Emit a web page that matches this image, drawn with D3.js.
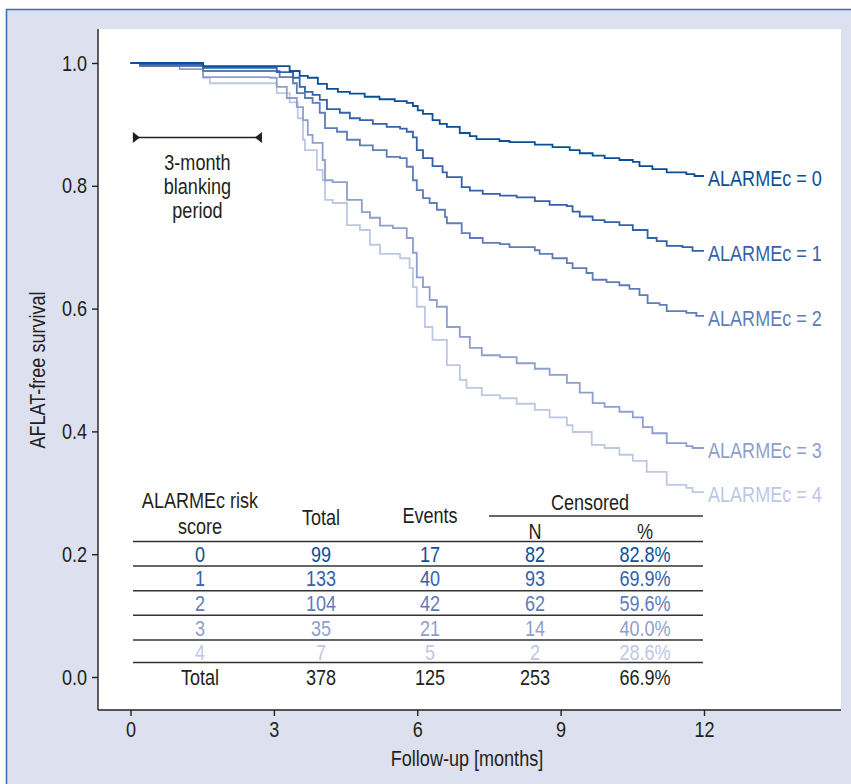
<!DOCTYPE html>
<html>
<head>
	<title>AFLAT-free survival</title>
	<meta charset='utf-8'>
	<style>
		body {
			margin: 0;
			background: #fff;
		}
		svg text {
			font-family: 'Liberation Sans', Arial, sans-serif;
			fill: #231f20;
		}
		.axis path, .axis line {
			stroke: #231f20;
			stroke-width: 1.4px;
		}
		.axis text {
			font-size: 22px;
		}
		.km {
			fill: none;
			stroke-width: 1.8px;
		}
		.tbl text {
			font-size: 22px;
		}
		.tbl line {
			stroke: #333;
			stroke-width: 1.5px;
		}
	</style>
</head>
<body>
<div id="chart"></div>
<script src='https://d3js.org/d3.v7.min.js'></script>
<script>
	'use strict';

	// Кривые Каплана-Мейера: [месяц, выживаемость]
	const curve0 = [[0,1],[1.52,0.995],[3.33,0.987],[3.54,0.979],[3.71,0.976],[3.92,0.966],[4.11,0.958],[4.34,0.953],[4.59,0.950],[4.90,0.945],[5.21,0.941],[5.53,0.938],[5.78,0.935],[5.91,0.930],[6.01,0.923],[6.12,0.917],[6.32,0.907],[6.47,0.901],[6.62,0.896],[6.89,0.886],[7.10,0.881],[7.24,0.876],[7.72,0.873],[7.93,0.871],[8.46,0.867],[8.83,0.863],[9.19,0.858],[9.40,0.853],[9.67,0.849],[9.92,0.845],[10.23,0.842],[10.51,0.839],[10.65,0.832],[10.92,0.827],[11.22,0.822],[11.63,0.819],[11.80,0.816]];
	const curve1 = [[0,1],[0.20,0.997],[1.52,0.992],[3.06,0.985],[3.40,0.976],[3.54,0.961],[3.65,0.953],[3.81,0.948],[3.96,0.940],[4.11,0.925],[4.38,0.919],[4.59,0.910],[4.80,0.907],[5.07,0.901],[5.36,0.896],[5.64,0.893],[5.78,0.888],[5.91,0.879],[5.99,0.858],[6.12,0.845],[6.32,0.832],[6.53,0.822],[6.62,0.814],[6.93,0.798],[7.10,0.792],[7.37,0.787],[7.73,0.784],[8.08,0.781],[8.46,0.775],[8.77,0.769],[9.13,0.767],[9.25,0.758],[9.40,0.750],[9.67,0.744],[9.92,0.741],[10.23,0.736],[10.51,0.728],[10.82,0.715],[11.01,0.710],[11.22,0.702],[11.55,0.700],[11.76,0.694]];
	const curve2 = [[0,1],[0.20,0.995],[1.52,0.987],[3.12,0.977],[3.40,0.967],[3.48,0.951],[3.65,0.943],[3.81,0.935],[3.96,0.919],[4.07,0.894],[4.32,0.888],[4.53,0.875],[4.80,0.866],[5.07,0.858],[5.36,0.847],[5.64,0.845],[5.78,0.831],[5.91,0.809],[5.99,0.793],[6.12,0.780],[6.26,0.772],[6.41,0.761],[6.58,0.749],[6.62,0.739],[6.93,0.723],[7.10,0.715],[7.37,0.707],[7.73,0.705],[7.93,0.700],[8.46,0.695],[8.56,0.689],[8.83,0.682],[9.13,0.674],[9.25,0.666],[9.54,0.658],[9.67,0.647],[9.96,0.643],[10.23,0.638],[10.44,0.632],[10.65,0.622],[10.82,0.609],[11.07,0.606],[11.22,0.596],[11.63,0.593],[11.84,0.588]];
	const curve3 = [[0,1],[1.03,0.990],[1.52,0.977],[2.92,0.976],[3.06,0.961],[3.27,0.943],[3.48,0.928],[3.61,0.907],[3.71,0.883],[3.81,0.870],[4.02,0.842],[4.07,0.809],[4.23,0.806],[4.53,0.777],[4.84,0.757],[5.01,0.748],[5.22,0.735],[5.49,0.731],[5.78,0.715],[5.91,0.691],[5.99,0.651],[6.12,0.635],[6.26,0.614],[6.41,0.603],[6.62,0.570],[6.89,0.554],[7.10,0.536],[7.35,0.524],[7.73,0.521],[8.08,0.511],[8.46,0.502],[8.77,0.492],[9.13,0.479],[9.40,0.463],[9.67,0.446],[9.92,0.440],[10.23,0.432],[10.51,0.423],[10.72,0.407],[10.92,0.397],[11.22,0.381],[11.63,0.376],[11.76,0.373]];
	const curve4 = [[0,1],[0.20,0.997],[0.85,0.995],[1.52,0.976],[1.66,0.967],[3.06,0.951],[3.33,0.936],[3.50,0.910],[3.61,0.875],[3.65,0.858],[3.90,0.826],[4.02,0.809],[4.07,0.777],[4.23,0.772],[4.53,0.736],[4.80,0.728],[5.01,0.704],[5.22,0.689],[5.64,0.682],[5.84,0.666],[5.91,0.635],[5.99,0.603],[6.16,0.570],[6.32,0.549],[6.62,0.508],[6.89,0.484],[7.03,0.471],[7.35,0.459],[7.73,0.454],[8.08,0.445],[8.46,0.435],[8.77,0.423],[9.13,0.410],[9.25,0.399],[9.65,0.378],[9.92,0.373],[10.23,0.362],[10.51,0.352],[10.80,0.334],[11.22,0.313],[11.63,0.308],[11.76,0.301]];

	const curves = [curve0, curve1, curve2, curve3, curve4];
	const curveLabels = ['ALARMEc = 0', 'ALARMEc = 1', 'ALARMEc = 2', 'ALARMEc = 3', 'ALARMEc = 4'];
	const colors = ['#0b4f97', '#3462a8', '#5f7cb8', '#8e9fcd', '#bec7e4'];

	const xTicks = [0, 3, 6, 9, 12];
	const yTicks = [0, 0.2, 0.4, 0.6, 0.8, 1.0];
	const followUpEnd = 12;
	const blanking = [0.05, 2.75];
	const blankingText = ['3-month', 'blanking', 'period'];

	// Таблица
	const riskScores = ['0', '1', '2', '3', '4'];
	const totals = [99, 133, 104, 35, 7];
	const events = [17, 40, 42, 21, 5];
	const censoredN = [82, 93, 62, 14, 2];
	const censoredPct = ['82.8%', '69.9%', '59.6%', '40.0%', '28.6%'];
	const totalRow = ['Total', '378', '125', '253', '66.9%'];

	const W = 851, H = 784;
	const plot = {left: 98, right: 841, top: 29, bottom: 710};

	const svg = d3.select('#chart').append('svg')
		.attr('width', W)
		.attr('height', H);

	// Фон панели
	svg.append('rect').attr('x', 6).attr('y', 9).attr('width', W).attr('height', H)
		.attr('fill', '#dde0ee');
	svg.append('path').attr('d', 'M6.5,' + H + 'V9.5H' + W)
		.attr('fill', 'none').attr('stroke', '#3f72b2').attr('stroke-width', 1.6);
	svg.append('rect')
		.attr('x', plot.left).attr('y', plot.top)
		.attr('width', plot.right - plot.left).attr('height', plot.bottom - plot.top)
		.attr('fill', '#fff');

	const xScale = d3.scaleLinear().domain([0, 12]).range([130.5, 704]);
	const yScale = d3.scaleLinear().domain([0, 1]).range([677, 63]);

	// Оси
	const xAxis = svg.append('g')
		.attr('class', 'axis')
		.attr('transform', 'translate(0,' + plot.bottom + ')')
		.call(d3.axisBottom(xScale).tickValues(xTicks).tickSize(6).tickPadding(5).tickSizeOuter(0));
	xAxis.select('.domain').attr('d', 'M' + plot.left + ',0H' + plot.right);

	const yAxis = svg.append('g')
		.attr('class', 'axis')
		.attr('transform', 'translate(' + plot.left + ',0)')
		.call(d3.axisLeft(yScale).tickValues(yTicks).tickFormat(d3.format('.1f')).tickSize(6).tickPadding(5).tickSizeOuter(0));
	yAxis.select('.domain').attr('d', 'M0,' + plot.top + 'V' + plot.bottom);

	svg.append('text')
		.attr('x', 467)
		.attr('y', 758)
		.attr('dy', '0.35em')
		.attr('text-anchor', 'middle')
		.style('font-size', '22px')
		.text('Follow-up [months]');

	svg.append('text')
		.attr('transform', 'translate(37,370) rotate(-90)')
		.attr('dy', '0.35em')
		.attr('text-anchor', 'middle')
		.style('font-size', '22px')
		.text('AFLAT-free survival');

	// Кривые
	const line = d3.line()
		.x(function(d) {return xScale(d[0]);})
		.y(function(d) {return yScale(d[1]);})
		.curve(d3.curveStepAfter);

	curves.slice().reverse().forEach((c, ri) => {
		const i = curves.length - 1 - ri;
		const pts = c.concat([[followUpEnd, c[c.length - 1][1]]]);
		svg.append('path')
			.datum(pts)
			.attr('class', 'km')
			.attr('stroke', colors[i])
			.attr('d', line);
		svg.append('text')
			.attr('x', xScale(followUpEnd) + 4)
			.attr('y', yScale(c[c.length - 1][1]) + 2)
			.attr('dy', '0.35em')
			.style('font-size', '22px')
			.style('fill', colors[i])
			.text(curveLabels[i]);
	});

	// Период слепой зоны
	const by = 137.5;
	const bx0 = xScale(blanking[0]), bx1 = xScale(blanking[1]);
	svg.append('line')
		.attr('x1', bx0).attr('x2', bx1).attr('y1', by).attr('y2', by)
		.attr('stroke', '#231f20').attr('stroke-width', 1.5);
	svg.append('path')
		.attr('d', 'M' + bx0 + ',' + (by - 5.5) + 'L' + (bx0 + 7) + ',' + by + 'L' + bx0 + ',' + (by + 5.5) + 'Z')
		.attr('fill', '#231f20');
	svg.append('path')
		.attr('d', 'M' + bx1 + ',' + (by - 5.5) + 'L' + (bx1 - 7) + ',' + by + 'L' + bx1 + ',' + (by + 5.5) + 'Z')
		.attr('fill', '#231f20');
	blankingText.forEach((t, i) => {
		svg.append('text')
			.attr('x', (bx0 + bx1) / 2)
			.attr('y', 162 + i * 24)
			.attr('dy', '0.35em')
			.attr('text-anchor', 'middle')
			.style('font-size', '22px')
			.text(t);
	});

	// Таблица
	const tbl = svg.append('g').attr('class', 'tbl');
	const colX = [200, 321, 430, 535, 645];
	const rowY = d3.scaleLinear().domain([0, 5]).range([554, 677]);
	const tableLeft = 133, tableRight = 703;

	const header = [
		{t: 'ALARMEc risk', x: colX[0], y: 500},
		{t: 'score', x: colX[0], y: 526},
		{t: 'Total', x: colX[1], y: 517},
		{t: 'Events', x: colX[2], y: 515},
		{t: 'Censored', x: (colX[3] + colX[4]) / 2, y: 502},
		{t: 'N', x: colX[3], y: 531},
		{t: '%', x: colX[4], y: 531}
	];
	tbl.selectAll('.hdr')
		.data(header)
		.join('text')
		.attr('class', 'hdr')
		.attr('x', function(d) {return d.x;})
		.attr('y', function(d) {return d.y;})
		.attr('dy', '0.35em')
		.attr('text-anchor', 'middle')
		.text(function(d) {return d.t;});

	tbl.append('line').attr('x1', 489).attr('x2', tableRight).attr('y1', 516).attr('y2', 516);

	riskScores.forEach((r, i) => {
		const cells = [r, totals[i], events[i], censoredN[i], censoredPct[i]];
		tbl.append('line')
			.attr('x1', tableLeft).attr('x2', tableRight)
			.attr('y1', rowY(i) - 12.5).attr('y2', rowY(i) - 12.5);
		tbl.selectAll('.row' + i)
			.data(cells)
			.join('text')
			.attr('class', 'row' + i)
			.attr('x', function(d, j) {return colX[j];})
			.attr('y', rowY(i))
			.attr('dy', '0.35em')
			.attr('text-anchor', 'middle')
			.style('fill', colors[i])
			.text(function(d) {return d;});
	});
	tbl.append('line')
		.attr('x1', tableLeft).attr('x2', tableRight)
		.attr('y1', rowY(5) - 14.5).attr('y2', rowY(5) - 14.5);
	tbl.selectAll('.rowT')
		.data(totalRow)
		.join('text')
		.attr('class', 'rowT')
		.attr('x', function(d, j) {return colX[j];})
		.attr('y', rowY(5))
		.attr('dy', '0.35em')
		.attr('text-anchor', 'middle')
		.text(function(d) {return d;});

	// Узкий шрифт: сжимаем весь текст по горизонтали
	svg.selectAll('text').each(function() {
		const len = this.getComputedTextLength();
		d3.select(this)
			.attr('textLength', len * 0.82)
			.attr('lengthAdjust', 'spacingAndGlyphs');
	});
</script>
</body>
</html>
